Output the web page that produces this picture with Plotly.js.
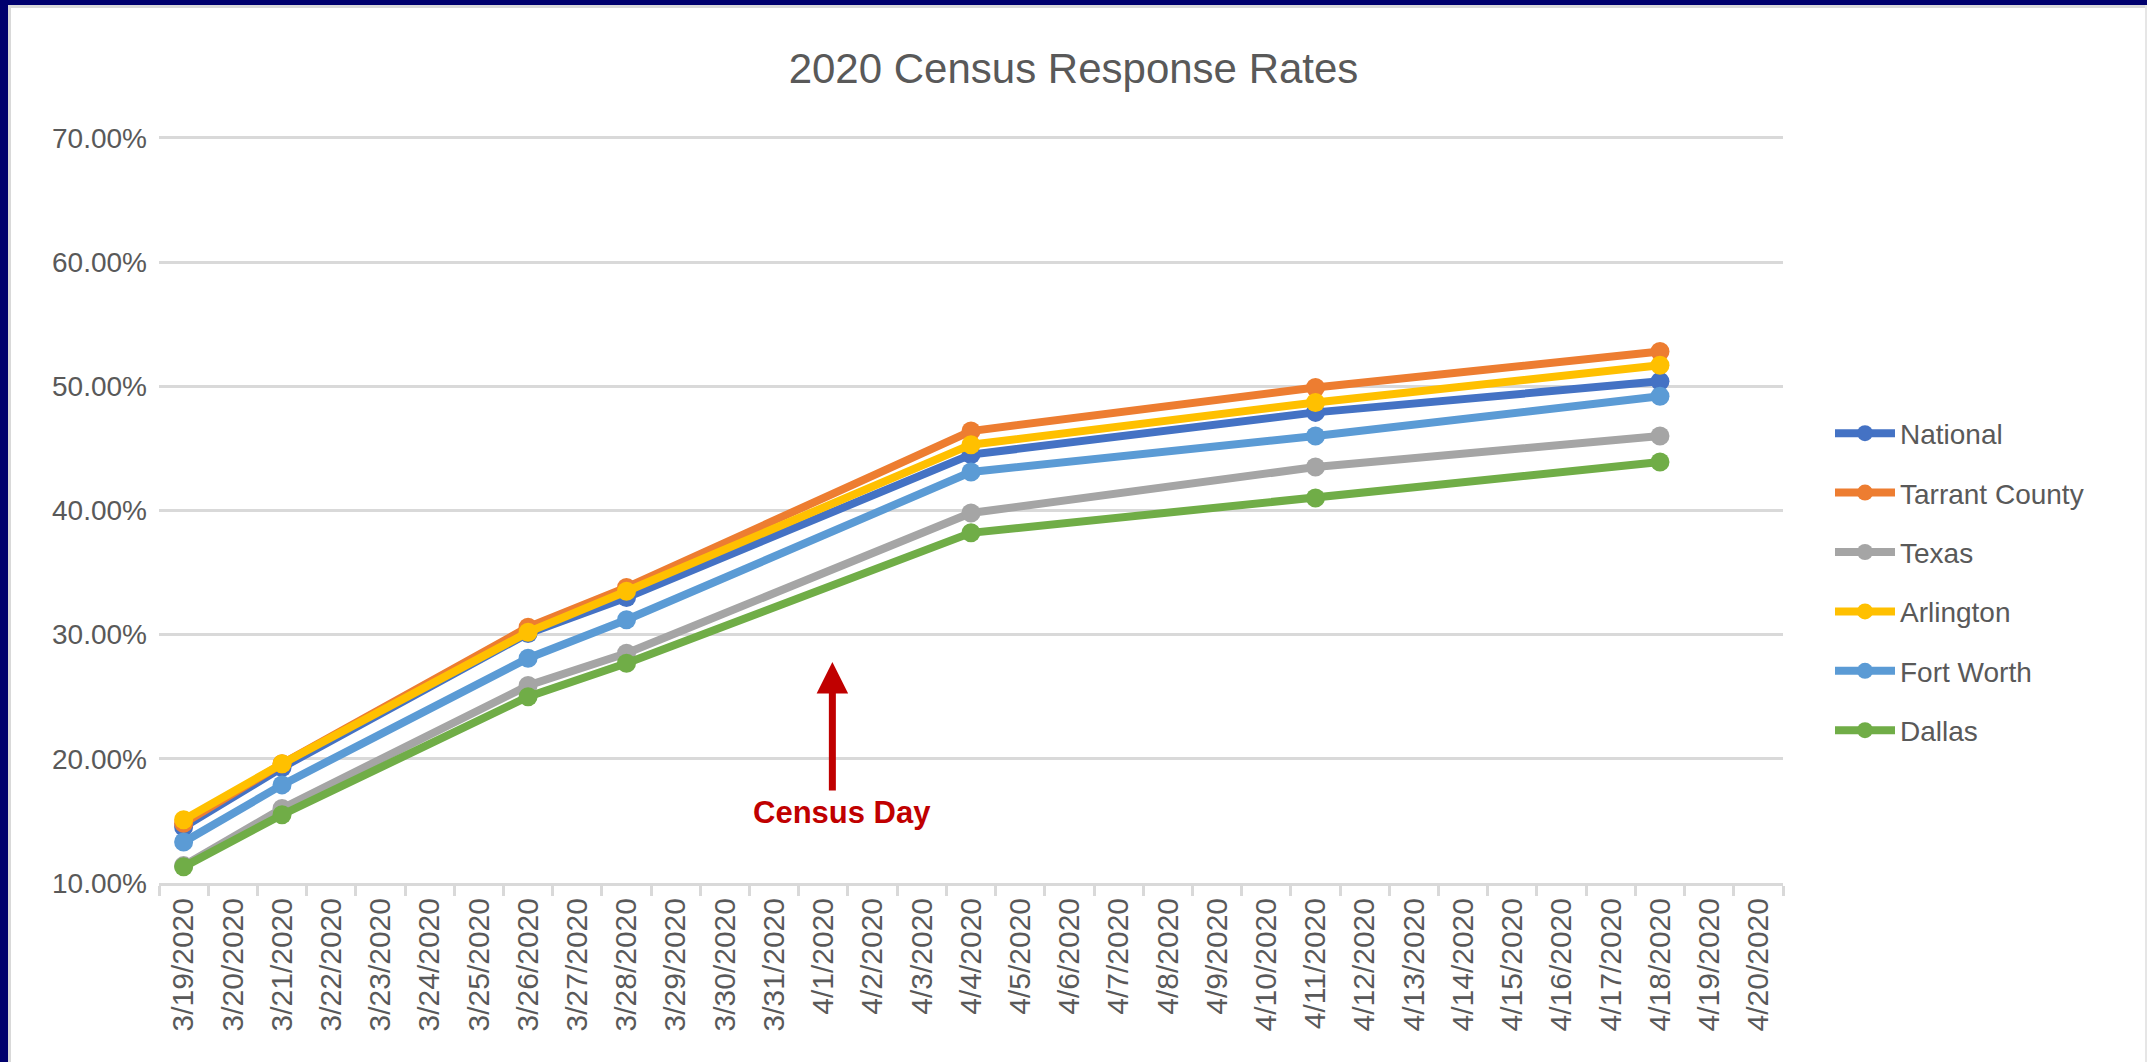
<!DOCTYPE html>
<html>
<head>
<meta charset="utf-8">
<script src="https://cdn.plot.ly/plotly-3.0.1.min.js"></script>
<style>
  html, body { margin: 0; padding: 0; background: #ffffff; }
  #frame { position: absolute; left: 0; top: 0; width: 2147px; height: 1062px; overflow: hidden; background: #ffffff; }
  #navyTop { position: absolute; left: 0; top: 0; width: 2147px; height: 5px; background: #00006E; }
  #navyLeft { position: absolute; left: 0; top: 0; width: 8px; height: 1062px; background: #00006E; }
  #grayTop { position: absolute; left: 8px; top: 5px; width: 2139px; height: 3px; background: #D9D9D9; }
  #grayLeft { position: absolute; left: 8px; top: 5px; width: 3px; height: 1057px; background: #D9D9D9; }
  #grayRight { position: absolute; left: 2145px; top: 5px; width: 2px; height: 1057px; background: #E6E6E6; }
  #chart { position: absolute; left: 0; top: 0; width: 2147px; height: 1062px; }
</style>
</head>
<body>
<div id="frame">
  <div id="navyTop"></div>
  <div id="navyLeft"></div>
  <div id="grayTop"></div>
  <div id="grayLeft"></div>
  <div id="grayRight"></div>
  <div id="chart"></div>
</div>
<script>
// ---- Data ----
const allDates = ['3/19/2020','3/20/2020','3/21/2020','3/22/2020','3/23/2020','3/24/2020','3/25/2020',
  '3/26/2020','3/27/2020','3/28/2020','3/29/2020','3/30/2020','3/31/2020','4/1/2020','4/2/2020',
  '4/3/2020','4/4/2020','4/5/2020','4/6/2020','4/7/2020','4/8/2020','4/9/2020','4/10/2020',
  '4/11/2020','4/12/2020','4/13/2020','4/14/2020','4/15/2020','4/16/2020','4/17/2020','4/18/2020',
  '4/19/2020','4/20/2020'];
const dataDates = ['3/19/2020','3/21/2020','3/26/2020','3/28/2020','4/4/2020','4/11/2020','4/18/2020'];

const national      = [14.5, 19.3, 30.1, 33.0, 44.5, 47.9, 50.4];
const tarrantCounty = [14.8, 19.6, 30.6, 33.8, 46.4, 49.9, 52.8];
const texas         = [11.4, 16.0, 25.9, 28.5, 39.8, 43.5, 46.0];
const arlington     = [15.1, 19.6, 30.2, 33.5, 45.3, 48.7, 51.7];
const fortWorth     = [13.3, 17.9, 28.1, 31.2, 43.1, 46.0, 49.2];
const dallas        = [11.3, 15.5, 25.0, 27.7, 38.2, 41.0, 43.9];

const seriesNames = ['National', 'Tarrant County', 'Texas', 'Arlington', 'Fort Worth', 'Dallas'];
const seriesValues = [national, tarrantCounty, texas, arlington, fortWorth, dallas];
const seriesColors = ['#4472C4', '#ED7D31', '#A5A5A5', '#FFC000', '#5B9BD5', '#70AD47'];

const titleText = '2020 Census Response Rates';
const censusDayLabel = 'Census Day';
const censusDayDate = '4/1/2020';
const arrowTipValue = 27.8;
const labelValue = 15.7;

// ---- Traces ----
const traces = seriesNames.map((name, i) => ({
  type: 'scatter',
  mode: 'lines+markers',
  name: name,
  legendgroup: 'g' + i,
  x: dataDates,
  y: seriesValues[i],
  line: { color: seriesColors[i], width: 8 },
  marker: { color: seriesColors[i], size: 19 },
  cliponaxis: false
}));

const font = 'Liberation Sans, Arial, sans-serif';
const layout = {
  width: 2147,
  height: 1062,
  paper_bgcolor: 'rgba(0,0,0,0)',
  plot_bgcolor: 'rgba(0,0,0,0)',
  margin: { l: 159, r: 364, t: 134, b: 179 },
  font: { family: font, color: '#595959', size: 28 },
  title: {
    text: titleText,
    x: 0.5, xref: 'container', xanchor: 'center',
    y: 1 - 68 / 1062, yref: 'container', yanchor: 'middle',
    font: { family: font, size: 42, color: '#595959' }
  },
  xaxis: {
    type: 'category',
    categoryorder: 'array',
    categoryarray: allDates,
    range: [-0.5, allDates.length - 0.5],
    tickangle: -90,
    ticks: 'outside',
    tickson: 'boundaries',
    ticklen: 10,
    tickwidth: 3,
    tickcolor: '#D9D9D9',
    showline: true,
    linecolor: '#D9D9D9',
    linewidth: 3,
    showgrid: false,
    zeroline: false,
    tickfont: { family: font, size: 30, color: '#595959' },
    fixedrange: true
  },
  yaxis: {
    range: [10, 70.32],
    dtick: 10,
    tick0: 10,
    tickformat: '.2f',
    ticksuffix: '%',
    showgrid: true,
    gridcolor: '#D9D9D9',
    gridwidth: 3,
    zeroline: false,
    showline: false,
    ticks: '',
    ticklabelstandoff: 11,
    tickfont: { family: font, size: 28, color: '#595959' },
    fixedrange: true
  },
  showlegend: true,
  legend: {
    x: (1830 - 159) / 1624,
    xanchor: 'left',
    y: (883 - 582) / 749,
    yanchor: 'middle',
    font: { family: font, size: 28, color: '#595959' },
    tracegroupgap: 20,
    bgcolor: 'rgba(0,0,0,0)',
    itemwidth: 60
  },
  annotations: [
    {
      x: censusDayDate, y: arrowTipValue, xref: 'x', yref: 'y',
      text: '', showarrow: true,
      ax: 0, ay: 130, axref: 'pixel', ayref: 'pixel',
      arrowhead: 2, arrowsize: 0.9, arrowwidth: 7, arrowcolor: '#C00000',
      xshift: 9, standoff: 0, startstandoff: 0
    },
    {
      x: censusDayDate, y: labelValue, xref: 'x', yref: 'y',
      text: '<b>' + censusDayLabel + '</b>', showarrow: false,
      xshift: 19,
      font: { family: font, size: 31, color: '#C00000' }
    }
  ]
};

Plotly.newPlot('chart', traces, layout, { staticPlot: true, displayModeBar: false });
</script>
</body>
</html>
